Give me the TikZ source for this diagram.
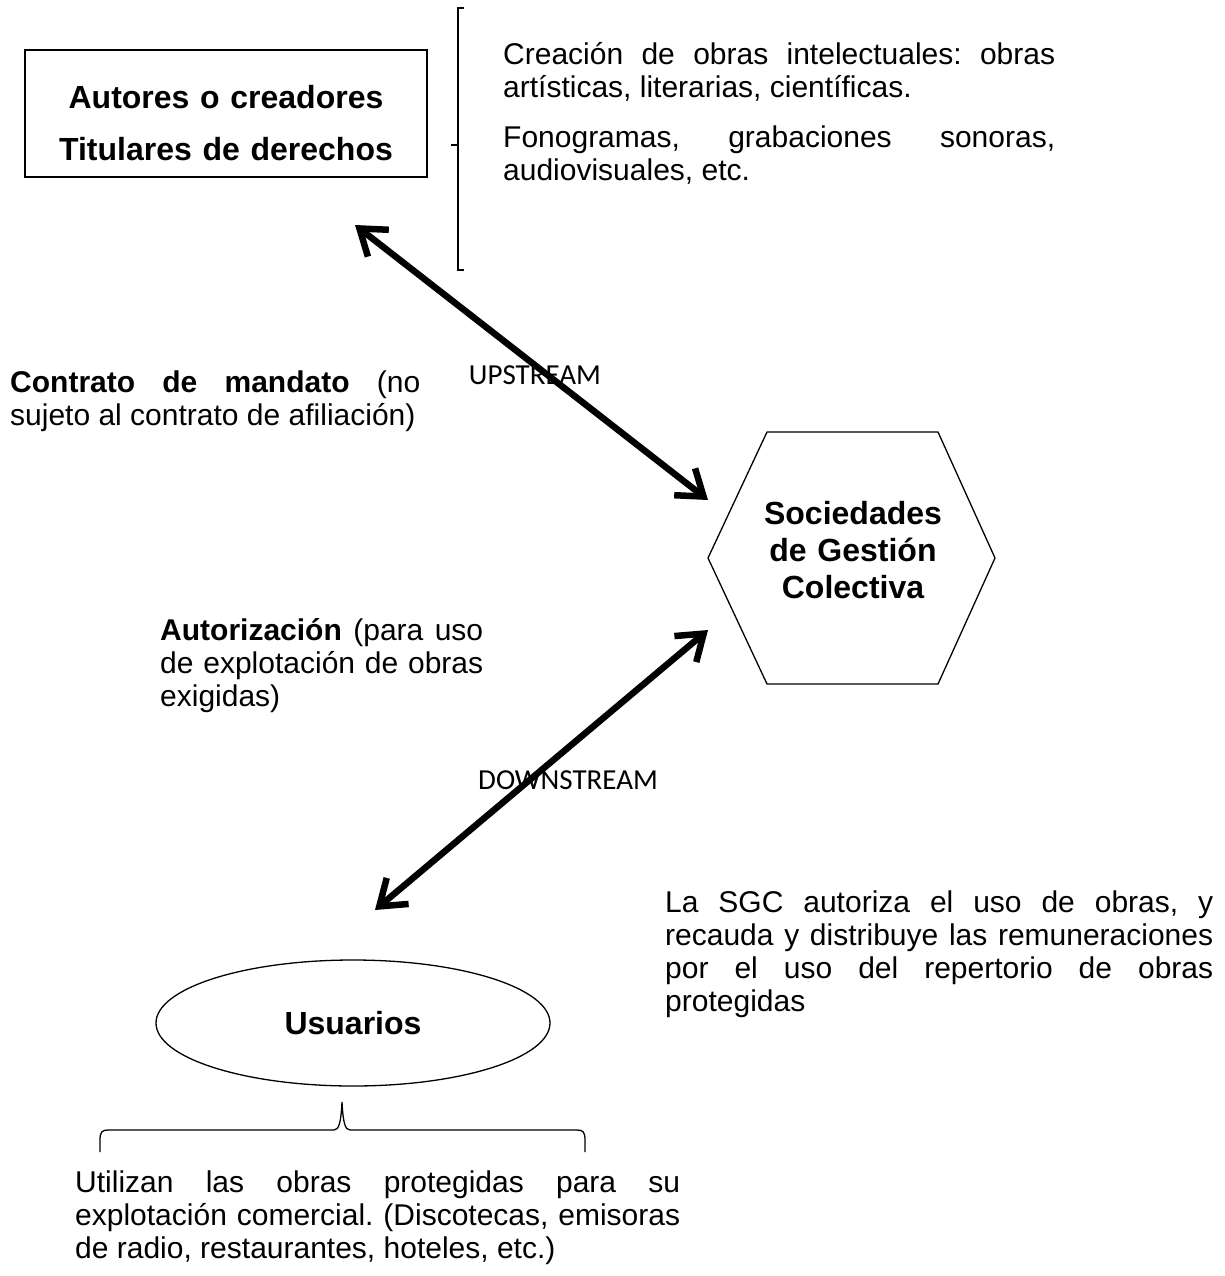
\documentclass[tikz,border=0pt]{standalone}
\usepackage{fontspec}
\setmainfont{Liberation Sans}
\newfontfamily\labfont{Carlito}
\usetikzlibrary{arrows.meta,shapes.geometric}
\frenchspacing
\newcommand\jparset{\frenchspacing\tolerance=10000\hyphenpenalty=10000\exhyphenpenalty=10000\relax}
\begin{document}
\begin{tikzpicture}[x=1pt,y=-1pt,
  thinline/.style={line width=1.3pt},
  body/.style={inner sep=0pt, anchor=base west, align=justify, font=\fontsize{30}{33}\selectfont\jparset},
  headtext/.style={font=\fontsize{32}{37}\selectfont\bfseries, align=center},
  flow/.style={line width=6.5pt, {Straight Barb[length=24pt,width=34pt]}-{Straight Barb[length=24pt,width=34pt]}},
  flowlabel/.style={font=\labfont\fontsize{29}{33}\selectfont, inner sep=0pt}]
\fill[white] (0,0) rectangle (1225,1276);
\useasboundingbox (0,0) rectangle (1225,1276);

% Autores box
\node[draw, thinline, minimum width=402pt, minimum height=127pt, inner sep=0pt] (autores) at (226,113.5) {};
\node[headtext, text width=400pt, anchor=base, inner sep=0pt] (autorestxt) at (226,109) {Autores o creadores\\[15pt]Titulares de derechos};

% bracket
\coordinate (brT) at (458,8);
\coordinate (brB) at (458,270);
\coordinate (brM) at (458,145);
\draw[thinline] ([xshift=6pt]brT) -- (brT) -- (brB) -- ([xshift=6pt]brB);
\draw[thinline] (brM) -- ([xshift=-7pt]brM);

% right top texts
\node[body, text width=552pt] (obras) at (503,65) {Creación de obras intelectuales: obras\linebreak artísticas, literarias, científicas.};
\node[body, text width=552pt] (fono) at (503,148) {Fonogramas, grabaciones sonoras,\linebreak audiovisuales, etc.};

% hexagon
\coordinate (h1) at (767,432);
\coordinate (h2) at (938,432);
\coordinate (h3) at (995,558);
\coordinate (h4) at (938,684);
\coordinate (h5) at (767,684);
\coordinate (h6) at (708,558);
\draw[thinline] (h1) -- (h2) -- (h3) -- (h4) -- (h5) -- (h6) -- cycle;
\node[headtext, text width=260pt, inner sep=0pt] (sgc) at (853,550) {Sociedades\\de Gestión\\Colectiva};

% upstream
\coordinate (upA) at (355,225);
\coordinate (upB) at (708,500);
\draw[flow] (upA) -- (upB);
\node[flowlabel] (uplab) at (535,375) {UPSTREAM};

\node[body, text width=410pt] (contrato) at (10,392) {\textbf{Contrato de mandato} (no\linebreak sujeto al contrato de afiliación)};

% downstream
\coordinate (dnA) at (708,630);
\coordinate (dnB) at (375,910);
\draw[flow] (dnA) -- (dnB);
\node[flowlabel] (dnlab) at (568,780) {DOWNSTREAM};

\node[body, text width=323pt] (autoriz) at (160,640) {\textbf{Autorización} (para uso\linebreak de explotación de obras\linebreak exigidas)};

\node[body, text width=548pt] (lasgc) at (665,912) {La SGC autoriza el uso de obras, y\linebreak recauda y distribuye las remuneraciones\linebreak por el uso del repertorio de obras\linebreak protegidas};

% usuarios
\node[draw, thinline, ellipse, minimum width=394pt, minimum height=126pt, inner sep=0pt, headtext] (usuarios) at (353,1023) {Usuarios};

% brace
\coordinate (bL) at (100,1152);
\coordinate (bR) at (585,1152);
\coordinate (bTip) at (342,1102);
\draw[thinline] (bL) -- (100,1140) .. controls (100,1132) and (102,1130) .. (108,1130) -- (334,1130) .. controls (339,1130) and (341,1122) .. (bTip) .. controls (343,1122) and (345,1130) .. (350,1130) -- (577,1130) .. controls (583,1130) and (585,1132) .. (585,1140) -- (bR);

\node[body, text width=605pt] (utilizan) at (75,1192) {Utilizan las obras protegidas para su\linebreak explotación comercial. (Discotecas, emisoras\linebreak de radio, restaurantes, hoteles, etc.)};
\end{tikzpicture}
\end{document}
